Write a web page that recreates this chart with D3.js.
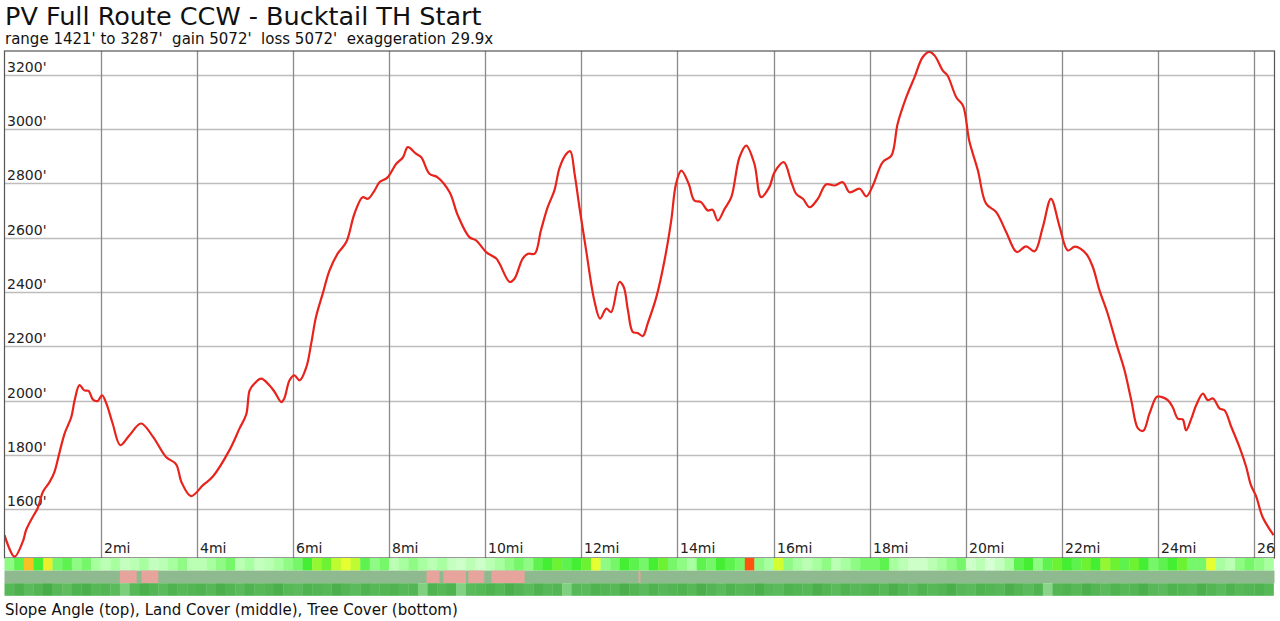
<!DOCTYPE html>
<html>
<head>
<meta charset="utf-8">
<script src="https://cdn.jsdelivr.net/npm/d3@7"></script>
<style>
  body { margin: 0; background: #fff; }
  svg { display: block; font-family: "DejaVu Sans", sans-serif; }
</style>
</head>
<body>
<div id="chart"></div>
<script>
// elevation profile (miles, feet)
var miles = [0.00,0.21,0.38,0.45,0.59,0.69,0.80,0.94,1.04,1.14,1.25,1.39,1.46,1.56,1.66,1.75,1.84,1.94,2.03,2.12,
  2.25,2.41,2.60,2.84,3.09,3.36,3.57,3.68,3.88,4.13,4.33,4.68,4.89,5.03,5.10,5.20,5.34,5.51,5.62,5.76,
  5.82,5.93,6.03,6.14,6.28,6.38,6.48,6.62,6.76,6.93,7.11,7.28,7.45,7.56,7.70,7.80,7.97,8.15,8.29,8.39,
  8.56,8.67,8.84,9.01,9.26,9.43,9.67,9.81,10.02,10.23,10.30,10.51,10.61,10.78,10.89,11.03,11.16,11.30,11.44,11.55,
  11.69,11.77,11.86,11.96,12.10,12.27,12.39,12.52,12.62,12.79,12.88,12.97,13.07,13.17,13.28,13.38,13.56,13.73,13.87,13.97,
  14.08,14.23,14.35,14.49,14.63,14.73,14.84,14.98,15.12,15.29,15.43,15.60,15.74,15.91,16.02,16.21,16.37,16.47,16.61,16.75,
  16.92,17.09,17.27,17.44,17.58,17.79,17.93,18.06,18.27,18.45,18.58,18.76,18.93,19.10,19.24,19.35,19.52,19.62,19.80,19.94,
  20.07,20.25,20.42,20.63,20.84,21.06,21.25,21.43,21.60,21.77,21.95,22.12,22.27,22.50,22.64,22.78,22.95,23.13,23.30,23.44,
  23.58,23.69,23.82,23.97,24.06,24.20,24.30,24.41,24.51,24.58,24.69,24.79,24.93,25.03,25.14,25.28,25.38,25.52,25.69,25.83,
  25.93,26.04,26.17,26.40];
var feet = [1505,1426,1481,1524,1573,1604,1665,1701,1738,1806,1879,1940,2002,2057,2038,2036,2004,1999,2020,1989,
  1916,1836,1873,1916,1867,1793,1766,1701,1649,1689,1720,1818,1898,1950,2038,2063,2081,2057,2032,1995,
  2008,2075,2093,2075,2124,2210,2308,2394,2479,2541,2584,2688,2749,2743,2774,2804,2822,2872,2896,2933,
  2909,2896,2835,2822,2767,2682,2602,2590,2547,2523,2504,2437,2449,2523,2541,2541,2627,2712,2774,2859,
  2909,2918,2835,2712,2553,2369,2302,2339,2326,2437,2419,2332,2253,2249,2238,2284,2381,2516,2663,2798,
  2847,2800,2737,2731,2700,2703,2663,2706,2749,2896,2939,2872,2749,2786,2841,2878,2804,2761,2743,2712,
  2743,2796,2792,2804,2767,2780,2752,2790,2878,2902,3019,3117,3190,3264,3284,3270,3215,3196,3117,3086,
  2957,2847,2725,2694,2620,2547,2568,2550,2639,2743,2640,2553,2567,2541,2492,2406,2320,2210,2112,2002,
  1898,1889,1953,2014,2014,2002,1977,1934,1931,1891,1934,1983,2026,2002,2008,1971,1965,1904,1830,1757,
  1689,1647,1573,1505];

var totalMiles = 26.42;
var yTicks = [1600,1800,2000,2200,2400,2600,2800,3000,3200];
var xTicks = [2,4,6,8,10,12,14,16,18,20,22,24,26];

// slope angle in degrees, one cell per 0.2 mi
var slopeDeg = [10,14,28,16,25,12,14,10,12,8, 6,8,5,6,8,5,6,8,10,6,
  6,8,10,12,6,8,5,6,8,10, 12,16,20,18,22,24,22,14,10,12,
  6,8,10,8,6,8,5,4,6,4, 6,8,10,12,10,14,16,18,14,16,
  18,24,10,12,16,14,12,16,18,12, 10,8,14,12,16,14,12,36,10,8,
  23,10,8,6,8,10,6,8,10,12, 12,14,8,6,4,4,6,8,10,12,
  4,6,3,5,8,14,16,10,14,18, 16,14,18,16,20,18,14,18,16,12,
  14,16,18,12,12,24,8,6,10,12, 10,8];
// tree cover percent, one cell per 0.2 mi
var treePct = [80,85,78,82,88,80,76,84,86,80, 82,78,62,80,86,82,78,84,80,82,
  84,80,86,82,78,84,80,82,86,80, 78,84,82,80,86,82,78,84,80,82,
  84,80,82,60,84,80,84,58,78,80, 84,80,86,82,78,84,80,82,60,80,
  78,84,82,80,86,82,78,84,80,82, 84,80,86,82,78,84,80,82,86,80,
  78,84,82,80,86,82,78,84,80,82, 84,80,86,82,78,84,80,82,86,80,
  78,84,82,80,86,82,78,84,55,82, 84,80,86,82,78,84,80,82,86,80,
  78,84,82,80,86,82,78,84,80,82, 84,80];
// land cover: shrub (pink) stretches, rest is forest
var shrubStart = [2.40,2.85,8.78,9.13,9.65,10.13,13.19];
var shrubEnd   = [2.75,3.20,9.05,9.60,9.98,10.82,13.23];

var W = 1280, H = 621;
var plot = {left: 4.5, right: 1274.5, top: 51, bottom: 558};
var bandH = 12.6;

var svg = d3.select('#chart').append('svg')
  .attr('width', W)
  .attr('height', H);

var x = d3.scaleLinear().domain([0, totalMiles]).range([plot.left, plot.right]);
var y = d3.scaleLinear().domain([1421, 3287]).range([plot.bottom, plot.top]);

// titles
svg.append('text')
  .attr('x', 5).attr('y', 25)
  .attr('font-size', 25.5)
  .attr('fill', '#111')
  .text('PV Full Route CCW - Bucktail TH Start');
svg.append('text')
  .attr('x', 5).attr('y', 44)
  .attr('font-size', 15)
  .attr('fill', '#111')
  .attr('xml:space', 'preserve')
  .style('white-space', 'pre')
  .text("range 1421' to 3287'  gain 5072'  loss 5072'  exaggeration 29.9x");

svg.append('clipPath').attr('id', 'plotclip')
  .append('rect')
  .attr('x', plot.left).attr('y', plot.top)
  .attr('width', plot.right - plot.left)
  .attr('height', plot.bottom - plot.top);

var g = svg.append('g').attr('clip-path', 'url(#plotclip)');

// horizontal grid
g.selectAll('.hgrid').data(yTicks).enter().append('line')
  .attr('class', 'hgrid')
  .attr('x1', plot.left).attr('x2', plot.right)
  .attr('y1', function(d){ return Math.round(y(d)) + 0.5; })
  .attr('y2', function(d){ return Math.round(y(d)) + 0.5; })
  .attr('stroke', '#bdbdbd')
  .attr('stroke-width', 1.3);

// vertical grid
g.selectAll('.vgrid').data(xTicks).enter().append('line')
  .attr('class', 'vgrid')
  .attr('y1', plot.top).attr('y2', plot.bottom)
  .attr('x1', function(d){ return Math.round(x(d)) + 0.5; })
  .attr('x2', function(d){ return Math.round(x(d)) + 0.5; })
  .attr('stroke', '#8a8a8a')
  .attr('stroke-width', 1.3);

// y labels sit inside the plot, just above the grid line
g.selectAll('.ylab').data(yTicks).enter().append('text')
  .attr('x', 7)
  .attr('y', function(d){ return Math.round(y(d)) - 3; })
  .attr('font-size', 14)
  .attr('fill', '#222')
  .text(function(d){ return d + "'"; });

// x labels at the bottom, right of each grid line (last one is clipped by the frame)
g.selectAll('.xlab').data(xTicks).enter().append('text')
  .attr('x', function(d){ return Math.round(x(d)) + 3; })
  .attr('y', plot.bottom - 5)
  .attr('font-size', 14)
  .attr('fill', '#222')
  .text(function(d){ return d + 'mi'; });

// elevation line
var pts = miles.map(function(m, i){ return [m, feet[i]]; });
var line = d3.line()
  .x(function(d){ return x(d[0]); })
  .y(function(d){ return y(d[1]); })
  .curve(d3.curveCatmullRom.alpha(0.5));

g.append('path')
  .attr('d', line(pts))
  .attr('fill', 'none')
  .attr('stroke', '#e8231c')
  .attr('stroke-width', 2.2)
  .attr('stroke-linejoin', 'round');

// plot border
svg.append('rect')
  .attr('x', plot.left).attr('y', plot.top)
  .attr('width', plot.right - plot.left)
  .attr('height', plot.bottom - plot.top)
  .attr('fill', 'none')
  .attr('stroke', '#555')
  .attr('stroke-width', 1.2);

// bands under the plot
var cell = 0.2;
var slopeColor = d3.scaleLinear()
  .domain([0, 8, 16, 24, 30, 40])
  .range(['#f2fff2', '#a8ffa0', '#44ee33', '#e6ff30', '#ffa020', '#ff2000'])
  .clamp(true);
var treeColor = d3.scaleLinear()
  .domain([0, 60, 100])
  .range(['#ffffff', '#7fd07f', '#2f9f2f'])
  .clamp(true);

var bands = svg.append('g');
var b0 = plot.bottom;

bands.selectAll('.slope').data(slopeDeg).enter().append('rect')
  .attr('x', function(d, i){ return x(i * cell); })
  .attr('width', function(d, i){ return x(Math.min((i + 1) * cell, totalMiles)) - x(i * cell) + 0.3; })
  .attr('y', b0)
  .attr('height', bandH)
  .attr('fill', function(d){ return slopeColor(d); });

bands.append('rect')
  .attr('x', x(0)).attr('width', x(totalMiles) - x(0))
  .attr('y', b0 + bandH).attr('height', bandH)
  .attr('fill', '#8fba8f');

bands.selectAll('.shrub').data(shrubStart).enter().append('rect')
  .attr('x', function(d){ return x(d); })
  .attr('width', function(d, i){ return Math.max(1, x(shrubEnd[i]) - x(d)); })
  .attr('y', b0 + bandH).attr('height', bandH)
  .attr('fill', '#e6a49c');

bands.selectAll('.tree').data(treePct).enter().append('rect')
  .attr('x', function(d, i){ return x(i * cell); })
  .attr('width', function(d, i){ return x(Math.min((i + 1) * cell, totalMiles)) - x(i * cell) + 0.3; })
  .attr('y', b0 + 2 * bandH)
  .attr('height', bandH)
  .attr('fill', function(d){ return treeColor(d); });

svg.append('text')
  .attr('x', 5).attr('y', 615)
  .attr('font-size', 15)
  .attr('fill', '#111')
  .text('Slope Angle (top), Land Cover (middle), Tree Cover (bottom)');
</script>
</body>
</html>
